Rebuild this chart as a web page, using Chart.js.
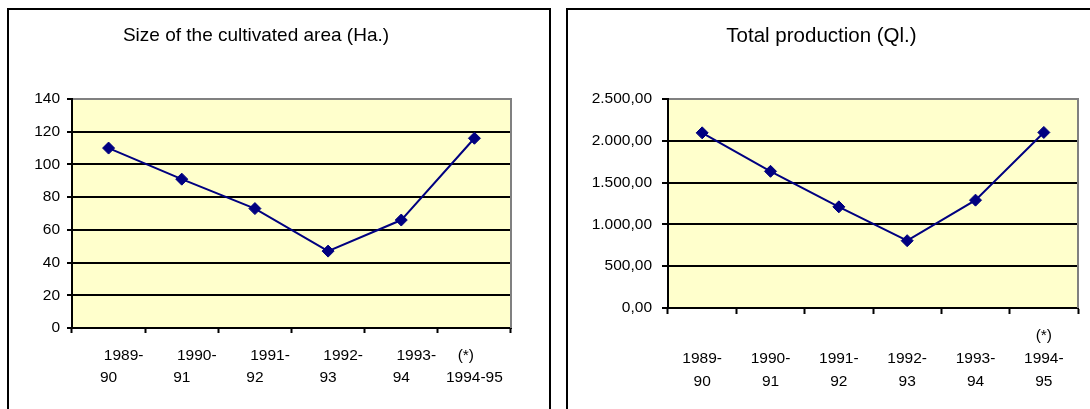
<!DOCTYPE html>
<html>
<head>
<meta charset="utf-8">
<title>Cultivated area and total production, 1989-95</title>
<script src="https://cdn.jsdelivr.net/npm/chart.js@4/dist/chart.umd.min.js"></script>
<style>
  html, body { margin: 0; padding: 0; background: #fff; }
  body { width: 1090px; height: 409px; overflow: hidden; position: relative; }
  .box { position: absolute; top: 8px; width: 540px; height: 420px; border: 2px solid #000; }
  #boxArea { left: 7px; }
  #boxProd { left: 566px; }
  canvas { display: block; }
</style>
</head>
<body>
<div class="box" id="boxArea"><canvas id="areaChart" width="540" height="420"></canvas></div>
<div class="box" id="boxProd"><canvas id="prodChart" width="540" height="420"></canvas></div>
<script>
// Crop seasons; the last one carries the (*) note.
const seasons = ['1989-90', '1990-91', '1991-92', '1992-93', '1993-94', '1994-95'];
const noteMarks = ['', '', '', '', '', '(*)'];

// Size of the cultivated area, hectares.
const areaHa = [110, 91, 73, 47, 66, 116];
// Total production, quintals.
const productionQl = [2095, 1635, 1210, 805, 1290, 2100];

// Value axes.
const areaAxis = { min: 0, max: 140, step: 20 };
const prodAxis = { min: 0, max: 2500, step: 500 };

const FONT = "'Liberation Sans', Arial, sans-serif";
const NAVY = '#000080';
const FRAME_GREY = '#808080';

Chart.defaults.font.family = FONT;
Chart.defaults.color = '#000';

// 2500.5 -> "2.500,50"
function formatDecimal(v) {
  const parts = Math.abs(v).toFixed(2).split('.');
  const intPart = parts[0].replace(/\B(?=(\d{3})+(?!\d))/g, '.');
  return (v < 0 ? '-' : '') + intPart + ',' + parts[1];
}

// Pale yellow plot background and grey right-hand frame.
const plotFrame = {
  id: 'plotFrame',
  beforeDraw(chart) {
    const { ctx, chartArea: a } = chart;
    ctx.save();
    ctx.fillStyle = '#FFFFCC';
    ctx.fillRect(a.left, a.top, a.right - a.left, a.bottom - a.top);
    ctx.restore();
  },
  beforeDatasetsDraw(chart) {
    const { ctx, chartArea: a } = chart;
    ctx.save();
    ctx.strokeStyle = FRAME_GREY;
    ctx.lineWidth = 2;
    ctx.beginPath();
    ctx.moveTo(Math.round(a.right), a.top - 1);
    ctx.lineTo(Math.round(a.right), a.bottom);
    ctx.stroke();
    ctx.restore();
  }
};

function buildChart(canvasId, cfg) {
  return new Chart(document.getElementById(canvasId), {
    type: 'line',
    data: {
      labels: seasons,
      datasets: [{
        data: cfg.values,
        borderColor: NAVY,
        borderWidth: 2,
        backgroundColor: NAVY,
        pointStyle: 'rectRot',
        pointRadius: 6,
        pointHoverRadius: 6,
        pointBackgroundColor: NAVY,
        pointBorderColor: NAVY,
        pointBorderWidth: 1,
        tension: 0,
        fill: false
      }]
    },
    options: {
      responsive: false,
      animation: false,
      events: [],
      layout: { padding: { left: cfg.padLeft, right: cfg.padRight, top: 0, bottom: 0 } },
      plugins: {
        legend: { display: false },
        tooltip: { enabled: false },
        title: {
          display: true,
          text: cfg.title,
          color: '#000',
          font: { family: FONT, size: cfg.titleSize, weight: 'normal', lineHeight: '24px' },
          padding: { top: 14, bottom: 51 }
        }
      },
      scales: {
        x: {
          type: 'category',
          offset: true,
          grid: {
            offset: true,
            drawOnChartArea: false,
            drawTicks: true,
            tickLength: cfg.xTickLength,
            tickColor: '#000',
            tickWidth: 2
          },
          border: { display: true, color: '#000', width: 2 },
          ticks: {
            autoSkip: false,
            maxRotation: 0,
            minRotation: 0,
            padding: cfg.xLabelPad,
            color: '#000',
            font: { family: FONT, size: 15.5, lineHeight: cfg.xLineHeight },
            callback: (value, index) => cfg.tickLines(index)
          },
          afterFit: (scale) => { scale.height = cfg.xHeight; }
        },
        y: {
          min: cfg.axis.min,
          max: cfg.axis.max,
          grid: {
            drawTicks: true,
            tickLength: cfg.yTickLength,
            tickColor: '#000',
            tickWidth: 2,
            lineWidth: 2,
            color: (ctx) => (ctx.tick && ctx.tick.value === cfg.axis.max) ? FRAME_GREY : '#000'
          },
          border: { display: true, color: '#000', width: 2 },
          ticks: {
            stepSize: cfg.axis.step,
            padding: cfg.yLabelPad,
            color: '#000',
            font: { family: FONT, size: 15.5 },
            callback: cfg.yFormat
          },
          afterFit: (scale) => { scale.width = cfg.yWidth; }
        }
      }
    },
    plugins: [plotFrame]
  });
}

// Area chart: two-line season labels, first line nudged right.
buildChart('areaChart', {
  title: 'Size of the cultivated area (Ha.)',
  titleSize: 19,
  values: areaHa,
  axis: areaAxis,
  padLeft: -8, padRight: 38,
  yWidth: 71, xHeight: 102,
  xTickLength: 5, yTickLength: 5,
  xLabelPad: 12, yLabelPad: 7,
  xLineHeight: '22px',
  yFormat: (v) => String(v),
  tickLines: (i) => {
    if (noteMarks[i]) return [noteMarks[i] + '    ', seasons[i]];
    const cut = seasons[i].indexOf('-') + 1;
    return ['       ' + seasons[i].slice(0, cut), seasons[i].slice(cut)];
  }
});

// Production chart: three-line slots so the note sits above its season.
buildChart('prodChart', {
  title: 'Total production (Ql.)',
  titleSize: 20.5,
  values: productionQl,
  axis: prodAxis,
  padLeft: -3, padRight: 30,
  yWidth: 103, xHeight: 122,
  xTickLength: 6, yTickLength: 6,
  xLabelPad: 10, yLabelPad: 10,
  xLineHeight: '23px',
  yFormat: (v) => formatDecimal(v),
  tickLines: (i) => {
    const cut = seasons[i].indexOf('-') + 1;
    return [noteMarks[i], seasons[i].slice(0, cut), seasons[i].slice(cut)];
  }
});
</script>
</body>
</html>
